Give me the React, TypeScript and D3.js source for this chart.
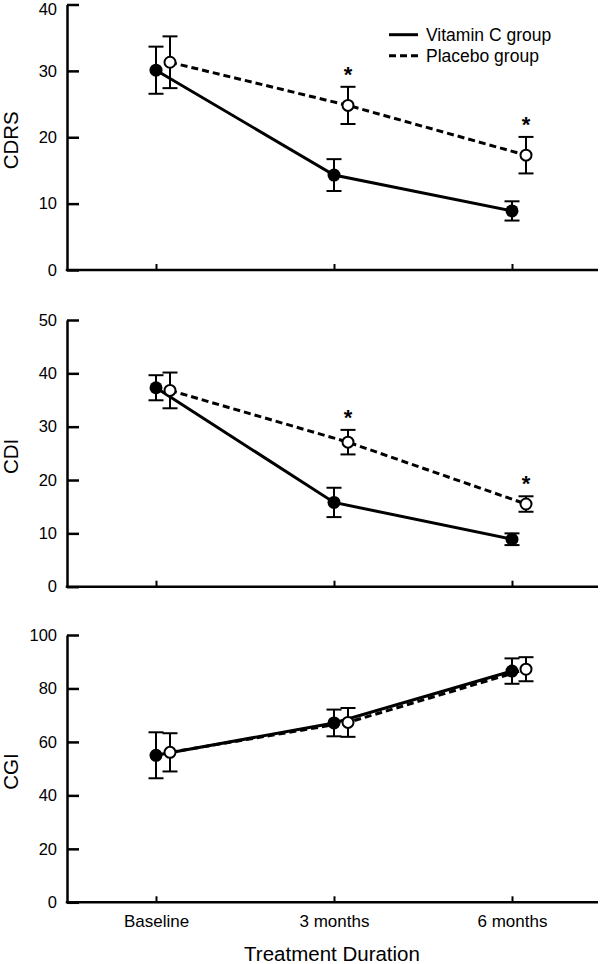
import React, { useEffect, useRef } from "react";
import * as d3 from "d3";

// time points and groups
const timepoints = ["Baseline", "3 months", "6 months"];
const groupNames = ["Vitamin C group", "Placebo group"];

// CDRS panel (mean, SE)
const cdrsVitC = [30.1, 14.3, 8.9];
const cdrsVitCErr = [3.55, 2.4, 1.45];
const cdrsPlacebo = [31.3, 24.8, 17.3];
const cdrsPlaceboErr = [3.9, 2.8, 2.75];
const cdrsSignif = [false, true, true];
const cdrsTicks = [0, 10, 20, 30, 40];

// CDI panel
const cdiVitC = [37.3, 15.8, 8.9];
const cdiVitCErr = [2.35, 2.75, 1.1];
const cdiPlacebo = [36.8, 27.1, 15.5];
const cdiPlaceboErr = [3.35, 2.3, 1.45];
const cdiSignif = [false, true, true];
const cdiTicks = [0, 10, 20, 30, 40, 50];

// CGI panel
const cgiVitC = [55.0, 67.1, 86.5];
const cgiVitCErr = [8.6, 5.0, 4.75];
const cgiPlacebo = [56.1, 67.3, 87.2];
const cgiPlaceboErr = [7.15, 5.4, 4.5];
const cgiSignif = [false, false, false];
const cgiTicks = [0, 20, 40, 60, 80, 100];

const FONT = "'Liberation Sans', Arial, Helvetica, sans-serif";

const panels = [
  { label: "CDRS", max: 40, ticks: cdrsTicks, top: 4.5, bottom: 270, vit: cdrsVitC, vitErr: cdrsVitCErr, pla: cdrsPlacebo, plaErr: cdrsPlaceboErr, signif: cdrsSignif, xLabels: false },
  { label: "CDI", max: 50, ticks: cdiTicks, top: 320, bottom: 586.7, vit: cdiVitC, vitErr: cdiVitCErr, pla: cdiPlacebo, plaErr: cdiPlaceboErr, signif: cdiSignif, xLabels: false },
  { label: "CGI", max: 100, ticks: cgiTicks, top: 635, bottom: 902.3, vit: cgiVitC, vitErr: cgiVitCErr, pla: cgiPlacebo, plaErr: cgiPlaceboErr, signif: cgiSignif, xLabels: true },
];

export default function App() {
  const ref = useRef<SVGSVGElement>(null);

  useEffect(() => {
    const svg = d3.select(ref.current);
    svg.selectAll("*").remove();

    const axisLeftX = 67;
    const axisRightX = 598;
    const offset = 14; // placebo markers shifted right

    const x = d3.scalePoint<string>().domain(timepoints).range([156, 512]);

    panels.forEach((p, pi) => {
      const y = d3.scaleLinear().domain([0, p.max]).range([p.bottom, p.top]);
      const g = svg.append("g");

      // y axis
      const yAxis = g.append("g")
        .attr("transform", `translate(${axisLeftX},0)`)
        .call(d3.axisLeft(y).tickValues(p.ticks).tickSizeInner(-12).tickSizeOuter(0).tickPadding(10));
      yAxis.selectAll("path, line").attr("stroke", "#000").attr("stroke-width", 2.5);
      yAxis.selectAll("text").attr("font-family", FONT).attr("font-size", 16.5).attr("fill", "#000");
      if (pi === 0) {
        // top label of the first panel sits a little lower, clear of the page edge
        yAxis.selectAll<SVGTextElement, number>("text")
          .filter((d) => d === p.max)
          .attr("y", 5);
      }

      // x axis
      const xAxis = g.append("g")
        .attr("transform", `translate(0,${p.bottom})`)
        .call(d3.axisBottom(x).tickSizeInner(-6).tickSizeOuter(0).tickPadding(13));
      xAxis.select(".domain").remove();
      xAxis.selectAll("line").attr("stroke", "#000").attr("stroke-width", 2);
      if (p.xLabels) {
        xAxis.selectAll("text").attr("font-family", FONT).attr("font-size", 17).attr("fill", "#000");
      } else {
        xAxis.selectAll("text").remove();
      }
      g.append("line")
        .attr("x1", axisLeftX - 1.25).attr("x2", axisRightX)
        .attr("y1", p.bottom).attr("y2", p.bottom)
        .attr("stroke", "#000").attr("stroke-width", 2.5);

      // y label
      g.append("text")
        .attr("transform", `translate(17.5,${(p.top + p.bottom) / 2 + 3}) rotate(-90)`)
        .attr("text-anchor", "middle")
        .attr("font-family", FONT).attr("font-size", 20.5)
        .text(p.label);

      const vitPts = timepoints.map((t, i) => ({ x: x(t) as number, v: p.vit[i], e: p.vitErr[i] }));
      const plaPts = timepoints.map((t, i) => ({ x: (x(t) as number) + offset, v: p.pla[i], e: p.plaErr[i] }));

      const line = d3.line<{ x: number; v: number }>().x((d) => d.x).y((d) => y(d.v));

      g.append("path").attr("d", line(plaPts)).attr("fill", "none")
        .attr("stroke", "#000").attr("stroke-width", 3).attr("stroke-dasharray", "7,4");
      g.append("path").attr("d", line(vitPts)).attr("fill", "none")
        .attr("stroke", "#000").attr("stroke-width", 3);

      // error bars
      [...vitPts, ...plaPts].forEach((d) => {
        const eb = g.append("g").attr("stroke", "#000").attr("stroke-width", 2);
        eb.append("line").attr("x1", d.x).attr("x2", d.x).attr("y1", y(d.v - d.e)).attr("y2", y(d.v + d.e));
        eb.append("line").attr("x1", d.x - 7.5).attr("x2", d.x + 7.5).attr("y1", y(d.v + d.e)).attr("y2", y(d.v + d.e));
        eb.append("line").attr("x1", d.x - 7.5).attr("x2", d.x + 7.5).attr("y1", y(d.v - d.e)).attr("y2", y(d.v - d.e));
      });

      // markers
      g.selectAll(".vit").data(vitPts).enter().append("circle")
        .attr("cx", (d) => d.x).attr("cy", (d) => y(d.v)).attr("r", 6.5).attr("fill", "#000");
      g.selectAll(".pla").data(plaPts).enter().append("circle")
        .attr("cx", (d) => d.x).attr("cy", (d) => y(d.v)).attr("r", 5.5)
        .attr("fill", "#fff").attr("stroke", "#000").attr("stroke-width", 2);

      // significance stars
      plaPts.forEach((d, i) => {
        if (!p.signif[i]) return;
        g.append("text")
          .attr("x", d.x).attr("y", y(d.v + d.e) - 5)
          .attr("text-anchor", "middle")
          .attr("font-family", FONT).attr("font-size", 22).attr("font-weight", "bold")
          .text("*");
      });
    });

    // x axis title
    svg.append("text")
      .attr("x", 332).attr("y", 961)
      .attr("text-anchor", "middle")
      .attr("font-family", FONT).attr("font-size", 20.5)
      .text("Treatment Duration");

    // legend
    const legend = svg.append("g");
    groupNames.forEach((name, i) => {
      const ly = 34.7 + i * 21;
      legend.append("line")
        .attr("x1", 389).attr("x2", 418).attr("y1", ly).attr("y2", ly)
        .attr("stroke", "#000").attr("stroke-width", 3)
        .attr("stroke-dasharray", i === 0 ? null : "7,4");
      legend.append("text")
        .attr("x", 426).attr("y", ly + 6.3)
        .attr("font-family", FONT).attr("font-size", 17.5)
        .text(name);
    });
  }, []);

  return (
    <svg
      ref={ref}
      width={600}
      height={964}
      style={{ position: "absolute", left: 0, top: 0, background: "#fff" }}
    />
  );
}
